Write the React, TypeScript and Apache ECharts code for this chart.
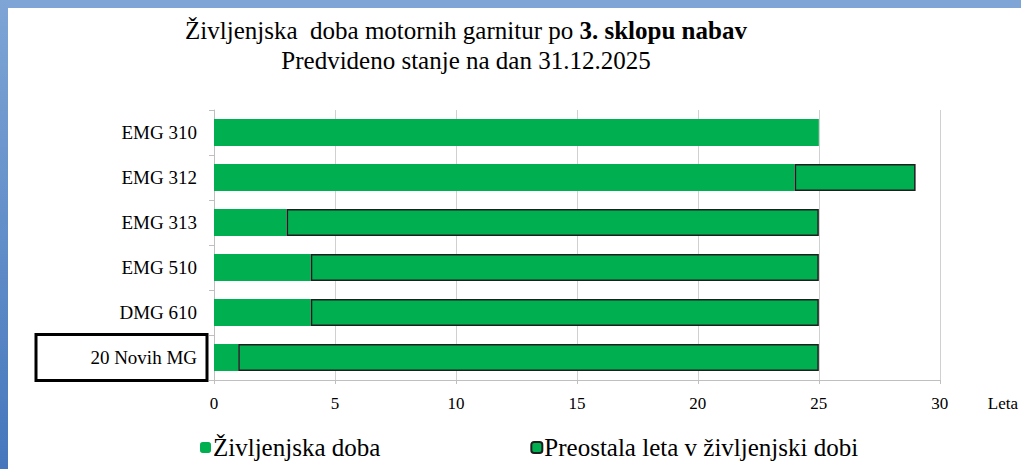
import React, { useEffect, useRef } from "react";
import * as echarts from "echarts";

const categories = ["EMG 310", "EMG 312", "EMG 313", "EMG 510", "DMG 610", "20 Novih MG"];
const lifeYears = [25, 24, 3, 4, 4, 1];
const remainingYears = [0, 5, 22, 21, 21, 24];
const xTicks = [0, 5, 10, 15, 20, 25, 30];
const seriesNames = ["Življenjska doba", "Preostala leta v življenjski dobi"];
const highlighted = "20 Novih MG";

const SERIF = "'Liberation Serif', 'Times New Roman', serif";
const GREEN = "#00b050";

export default function App() {
  const ref = useRef<HTMLDivElement>(null);
  useEffect(() => {
    if (!ref.current) return;
    const chart = echarts.init(ref.current, undefined, { renderer: "svg" });
    chart.setOption({
      animation: false,
      backgroundColor: "#ffffff",
      title: [
        {
          text: "{n|Življenjska  doba motornih garnitur po }{b|3. sklopu nabav}",
          left: 461,
          textAlign: "center",
          top: 13,
          textStyle: {
            fontWeight: "normal",
            rich: {
              n: { fontFamily: SERIF, fontSize: 25, fontWeight: "normal", color: "#000" },
              b: { fontFamily: SERIF, fontSize: 25, fontWeight: "bold", color: "#000" },
            },
          },
        },
        {
          text: "Predvideno stanje na dan 31.12.2025",
          left: 461,
          textAlign: "center",
          top: 43,
          textStyle: { fontFamily: SERIF, fontSize: 25, fontWeight: "normal", color: "#000" },
        },
      ],
      graphic: [
        { type: "rect", shape: { x: 0, y: 0, width: 1021, height: 8 }, style: { fill: "#7ea5d5" }, z: 100 },
        {
          type: "rect",
          shape: { x: 0, y: 0, width: 8, height: 469 },
          style: {
            fill: new echarts.graphic.LinearGradient(0, 0, 0, 1, [
              { offset: 0, color: "#7ea5d5" },
              { offset: 1, color: "#4677bd" },
            ]),
          },
          z: 100,
        },
      ],
      legend: {
        left: 195,
        top: 430,
        itemWidth: 11,
        itemHeight: 11,
        itemGap: 150,
        textStyle: { fontFamily: SERIF, fontSize: 25, color: "#000", padding: [0, 0, 0, -3] },
        data: seriesNames,
      },
      grid: { left: 214, right: 74, top: 110, bottom: 89, containLabel: false },
      xAxis: {
        type: "value",
        min: xTicks[0],
        max: xTicks[xTicks.length - 1],
        interval: 5,
        name: "Leta",
        nameLocation: "end",
        nameGap: 48,
        nameTextStyle: { fontFamily: SERIF, fontSize: 17, color: "#000", verticalAlign: "top", padding: [15, 0, 0, 0] },
        axisLine: { show: true, lineStyle: { color: "#bfbfbf", width: 1 } },
        axisTick: { show: true, length: 4, lineStyle: { color: "#bfbfbf" } },
        axisLabel: { fontFamily: SERIF, fontSize: 17, color: "#000", margin: 15 },
        splitLine: { show: true, lineStyle: { color: "#d0d0d0", width: 1 } },
      },
      yAxis: {
        type: "category",
        inverse: true,
        data: categories,
        axisLine: { show: true, lineStyle: { color: "#bfbfbf", width: 1 } },
        axisTick: { show: true, length: 5, lineStyle: { color: "#bfbfbf" } },
        axisLabel: {
          margin: 7,
          formatter: (v: string) => (v === highlighted ? `{box|${v}}` : `{n|${v}}`),
          rich: {
            n: { fontFamily: SERIF, fontSize: 19, color: "#000", padding: [0, 10, 0, 0] },
            box: {
              fontFamily: SERIF,
              fontSize: 19,
              color: "#000",
              align: "right",
              width: 161,
              height: 46,
              padding: [0, 10, 0, 0],
              borderColor: "#000",
              borderWidth: 3,
            },
          },
        },
      },
      series: [
        {
          name: seriesNames[0],
          type: "bar",
          stack: "total",
          barCategoryGap: "40%",
          itemStyle: { color: GREEN },
          data: lifeYears,
        },
        {
          name: seriesNames[1],
          type: "bar",
          stack: "total",
          barCategoryGap: "40%",
          itemStyle: { color: GREEN, borderColor: "#1e1e1e", borderWidth: 1.5 },
          data: remainingYears.map((v) => (v === 0 ? null : v)),
        },
      ],
    });
    return () => chart.dispose();
  }, []);
  return <div ref={ref} style={{ position: "fixed", left: 0, top: 0, width: 1021, height: 469 }} />;
}
